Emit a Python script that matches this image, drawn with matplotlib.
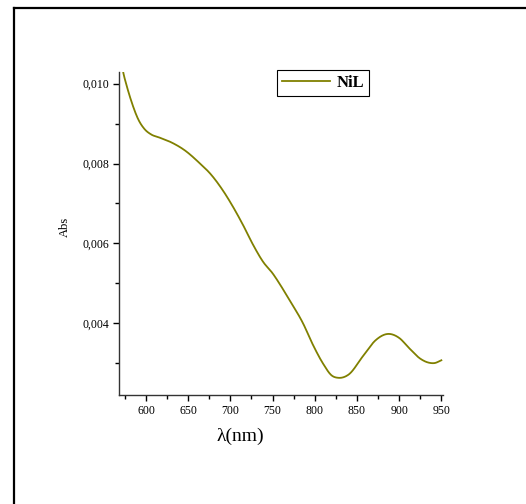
import numpy as np
import matplotlib.pyplot as plt
from matplotlib.ticker import MultipleLocator, FuncFormatter
from matplotlib.lines import Line2D

plt.rcParams['font.family'] = ['Liberation Serif', 'DejaVu Serif']

# spectrum
wavelength = [570, 573, 577, 583, 591, 598, 606, 616, 630, 646, 664, 676, 691,
              703, 715, 727, 739, 750, 760, 770, 786, 798, 810, 820, 828, 840,
              857, 872, 887, 900, 912, 925, 935, 942, 950]
absorb = [0.01065, 0.01029, 0.00996, 0.00954, 0.00910, 0.00887, 0.00873,
          0.00865, 0.00853, 0.00833, 0.00800, 0.00775, 0.00733, 0.00692,
          0.00646, 0.00596, 0.00553, 0.00525, 0.00493, 0.00458, 0.00400,
          0.00345, 0.00298, 0.00269, 0.00263, 0.00271, 0.00317, 0.00357,
          0.00373, 0.00363, 0.00337, 0.00311, 0.00301, 0.00300, 0.00307]

# smooth cubic Hermite curve through the read points
def hermite(x, y, xs):
    h = np.diff(x)
    d = np.diff(y) / h
    m = np.empty_like(y)
    m[1:-1] = (h[:-1] * d[1:] + h[1:] * d[:-1]) / (h[:-1] + h[1:])
    m[0] = d[0]
    m[-1] = d[-1]
    idx = np.clip(np.searchsorted(x, xs) - 1, 0, len(x) - 2)
    hh = x[idx + 1] - x[idx]
    t = (xs - x[idx]) / hh
    h00 = 2*t**3 - 3*t**2 + 1
    h10 = t**3 - 2*t**2 + t
    h01 = -2*t**3 + 3*t**2
    h11 = t**3 - t**2
    return h00*y[idx] + h10*hh*m[idx] + h01*y[idx+1] + h11*hh*m[idx+1]

x = np.array(wavelength, dtype=float)
y = np.array(absorb)
xs = np.linspace(x[0], x[-1], 800)
ys = hermite(x, y, xs)

fig = plt.figure(figsize=(5.26, 5.04), dpi=100)
ax = fig.add_axes([0.2268, 0.2163, 0.6155, 0.6414])

ax.plot(xs, ys, color="#808000", lw=1.3, label="NiL")

ax.set_xlim(568.4, 952)
ax.set_ylim(0.0022, 0.0103)
ax.spines['top'].set_visible(False)
ax.spines['right'].set_visible(False)
for s in ['left', 'bottom']:
    ax.spines[s].set_linewidth(1.0)
    ax.spines[s].set_color("#333333")

ax.xaxis.set_major_locator(MultipleLocator(50))
ax.xaxis.set_minor_locator(MultipleLocator(25))
ax.yaxis.set_major_locator(MultipleLocator(0.002))
ax.yaxis.set_minor_locator(MultipleLocator(0.001))
ax.yaxis.set_major_formatter(FuncFormatter(lambda v, p: f"{v:.3f}".replace(".", ",")))
ax.tick_params(which='major', direction='out', length=4, width=1, labelsize=8.5, pad=3)
ax.tick_params(which='minor', direction='out', length=3, width=1)

ax.set_xlabel("λ(nm)", fontsize=14)
ax.xaxis.set_label_coords(0.373, -0.127)
ax.xaxis.label.set_va('center')
ax.set_ylabel("Abs", fontsize=9)
ax.yaxis.set_label_coords(-0.168, 0.52)
ax.yaxis.label.set_va('center')

leg = ax.legend(loc='upper left', bbox_to_anchor=((276.7 - 119.3) / 323.7, (395 - 70) / 323.3),
                frameon=True, fancybox=False, edgecolor='black', framealpha=1,
                prop={'weight': 'bold', 'size': 12}, handlelength=2.9,
                borderpad=0.3, handletextpad=0.4, borderaxespad=0)
leg.get_frame().set_linewidth(0.8)

# outer frame partially visible
fig.add_artist(Line2D([14 / 526, 14 / 526], [0, 1 - 8 / 504], color='black', lw=1.6,
                      transform=fig.transFigure))
fig.add_artist(Line2D([14 / 526, 1], [1 - 8 / 504, 1 - 8 / 504], color='black', lw=1.6,
                      transform=fig.transFigure))

fig.savefig("out.png", dpi=100)
